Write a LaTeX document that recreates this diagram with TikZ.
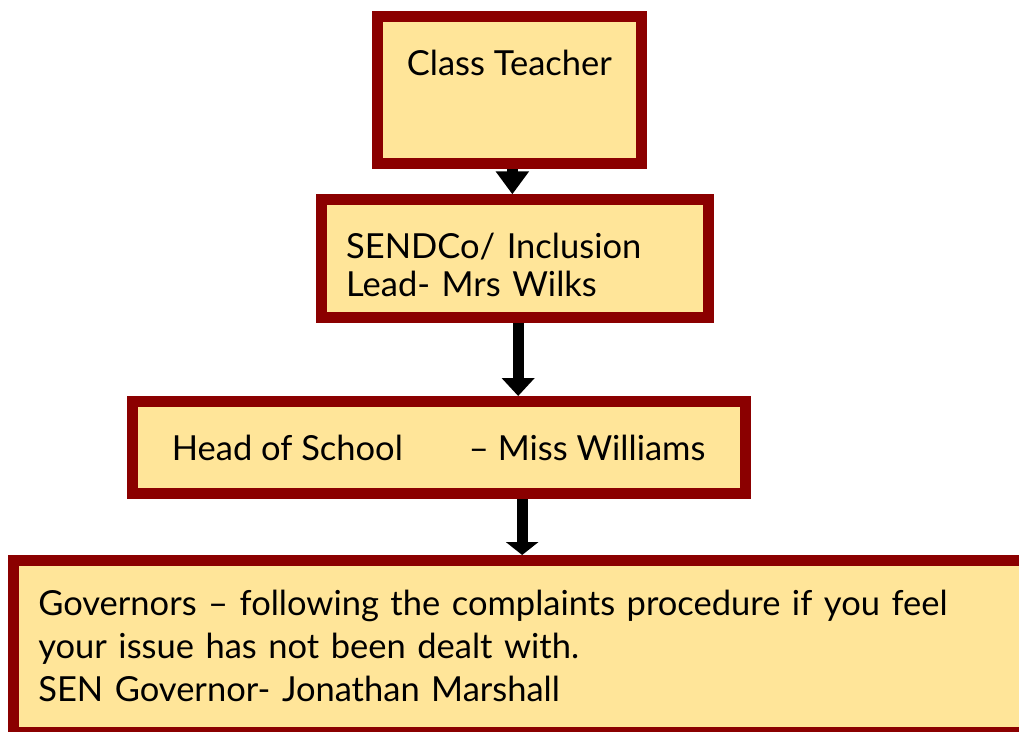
\documentclass[tikz,border=0pt]{standalone}
\usepackage{fontspec}
\setmainfont{Lato}
\usetikzlibrary{arrows.meta, calc}
\definecolor{boxred}{rgb}{0.545098, 0.0, 0.0}
\definecolor{boxfill}{rgb}{1.0, 0.898039, 0.6}

\begin{document}
\begin{tikzpicture}
			[x=1pt, y=-1pt,
			box/.style={draw=boxred, fill=boxfill, line width=11pt, anchor=north west,
				font=\fontsize{34.5}{43}\selectfont, inner ysep=0pt},
			leftbox/.style={box, align=left, inner xsep=24.5pt},
			link/.style={line width=11pt, -{Triangle[width=32pt, length=#1]}},
			link/.default=18pt]
			\useasboundingbox (0,0) rectangle (1019,731);
			\clip (0,0) rectangle (1019,731);

			\node[box, align=center, minimum width=263.7pt, minimum height=147.3pt](teacher) at (372,11) {Class Teacher\\[12pt]\mbox{}};
			\node[leftbox, font=\fontsize{34.5}{38.5}\selectfont, text width=338pt, minimum width=387.3pt, minimum height=117.4pt](sendco) at (316,194.3) {\mbox{}\\SENDCo/ Inclusion\\Lead- Mrs Wilks};
			\node[box, align=center, minimum width=612.8pt, minimum height=92.3pt](head) at (126.7,396) {Head of School\hspace{66pt}– Miss Williams};
			\node[leftbox, text width=971pt, minimum width=1021pt, minimum height=171.7pt](gov) at (7.8,555) {Governors – following the complaints procedure if you feel\\your issue has not been dealt with.\\SEN Governor- Jonathan Marshall};

			\draw[link=23pt] ($(teacher.south)+(3,0)$)--($(teacher.south |- sendco.north)+(3,0)$);
			\draw[link] ($(sendco.south)+(3,0)$)--($(sendco.south |- head.north)+(3,0)$);
			\draw[link=13pt] ($(sendco.south |- head.south)+(7,0)$)--($(sendco.south |- gov.north)+(7,0)$);
		\end{tikzpicture}
\end{document}
